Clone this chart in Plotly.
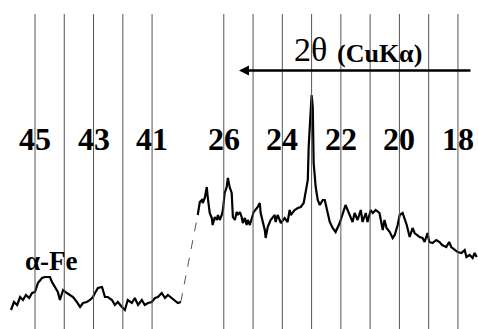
import plotly.graph_objects as go

# ---- data (2-theta in degrees, intensity in arbitrary units) ----
two_theta_left = [45.82, 45.72, 45.61, 45.51, 45.41, 45.31, 45.20, 45.10, 45.00, 44.90,
                  44.76, 44.66, 44.56, 44.49, 44.42, 44.32, 44.22, 44.15, 44.04, 43.91,
                  43.81, 43.70, 43.57, 43.46, 43.36, 43.23, 43.12, 43.02, 42.95, 42.85,
                  42.71, 42.61, 42.51, 42.37, 42.27, 42.17, 42.03, 41.93, 41.83, 41.69,
                  41.59, 41.48, 41.35, 41.25, 41.14, 41.01, 40.90, 40.80, 40.67, 40.56,
                  40.46, 40.32, 40.22, 40.12, 40.02]
intensity_left = [19, 27, 24, 32, 29, 34, 31, 36, 37, 46,
                  51, 52, 52, 52, 47, 42, 37, 29, 39, 36,
                  34, 32, 27, 22, 26, 27, 29, 32, 36, 41,
                  42, 32, 32, 29, 24, 27, 22, 19, 29, 26,
                  31, 24, 29, 24, 26, 27, 31, 32, 36, 31,
                  34, 31, 29, 26, 27]

two_theta_right = [26.89, 26.82, 26.75, 26.72, 26.65, 26.58, 26.55, 26.48, 26.41, 26.38,
                   26.31, 26.24, 26.20, 26.14, 26.07, 26.03, 25.97, 25.90, 25.86, 25.80,
                   25.73, 25.69, 25.62, 25.56, 25.52, 25.45, 25.39, 25.35, 25.28, 25.22,
                   25.18, 25.11, 25.04, 24.98, 24.84, 24.77, 24.74, 24.60, 24.57, 24.50,
                   24.40, 24.26, 24.23, 24.16, 24.05, 23.92, 23.82, 23.75, 23.71, 23.58,
                   23.47, 23.37, 23.27, 23.20, 23.13, 23.10, 23.06, 23.00, 22.96, 22.93,
                   22.86, 22.79, 22.72, 22.62, 22.55, 22.45, 22.38, 22.28, 22.18, 22.04,
                   21.94, 21.84, 21.77, 21.70, 21.60, 21.53, 21.43, 21.32, 21.26, 21.15,
                   21.09, 20.98, 20.91, 20.81, 20.68, 20.57, 20.51, 20.44, 20.33, 20.23,
                   20.16, 20.06, 19.99, 19.89, 19.75, 19.65, 19.58, 19.55, 19.48, 19.41,
                   19.31, 19.21, 19.14, 19.04, 18.98, 18.87, 18.74, 18.63, 18.54, 18.40,
                   18.30, 18.23, 18.12, 18.01, 17.88, 17.77, 17.71, 17.60, 17.50, 17.43,
                   17.36]
intensity_right = [114, 127, 129, 126, 131, 142, 132, 116, 111, 104,
                   112, 109, 114, 109, 114, 119, 136, 142, 151, 142,
                   136, 112, 109, 117, 114, 117, 112, 106, 111, 104,
                   109, 104, 111, 117, 122, 126, 116, 99, 91, 102,
                   109, 114, 107, 114, 106, 111, 107, 119, 114, 119,
                   121, 122, 126, 136, 149, 182, 209, 234, 222, 166,
                   142, 129, 124, 129, 129, 114, 107, 101, 97, 106,
                   116, 124, 119, 114, 107, 116, 109, 119, 107, 116,
                   107, 119, 116, 119, 116, 99, 109, 101, 97, 91,
                   94, 104, 114, 116, 104, 92, 99, 101, 96, 94,
                   92, 91, 87, 96, 87, 86, 89, 87, 84, 82,
                   87, 82, 79, 77, 76, 79, 72, 74, 71, 76,
                   72]

grid_angles = [45, 44, 43, 42, 41, 26, 25, 24, 23, 22, 21, 20, 19, 18]
label_angles = [45, 43, 41, 26, 24, 22, 20, 18]
label_texts = ["45", "43", "41", "26", "24", "22", "20", "18"]


# broken 2-theta axis: 45..40 on the left, 27..17 on the right
def pos(tt):
    if tt >= 33:
        return 45.0 - tt
    return 6.45 + (26.0 - tt)


xl = [pos(t) for t in two_theta_left]
xr = [pos(t) for t in two_theta_right]

W, H = 478, 329


def px(x):
    return x / W


def py(y):
    return (H - y) / H


fig = go.Figure()

# vertical reference lines
for a in grid_angles:
    fig.add_shape(type="line", x0=pos(a), x1=pos(a), y0=0, y1=315,
                  xref="x", yref="y", line=dict(color="#555555", width=1))

# connector across the break
fig.add_trace(go.Scatter(x=[xl[-1], xr[0]], y=[intensity_left[-1], intensity_right[0]],
                         mode="lines", line=dict(color="#555555", width=1, dash="dash"),
                         hoverinfo="skip", showlegend=False))
fig.add_trace(go.Scatter(x=xl, y=intensity_left, mode="lines",
                         line=dict(color="black", width=2.2), showlegend=False))
fig.add_trace(go.Scatter(x=xr, y=intensity_right, mode="lines",
                         line=dict(color="black", width=2.2), showlegend=False))

serif = "Liberation Serif, Times New Roman, serif"
for a, t in zip(label_angles, label_texts):
    fig.add_annotation(x=pos(a), y=190, xref="x", yref="y", text=t, showarrow=False,
                       xanchor="center", yanchor="middle",
                       font=dict(family=serif, size=32, color="black", weight="bold"))

fig.add_annotation(x=px(51), y=py(261), xref="paper", yref="paper", text="α-Fe",
                   showarrow=False, xanchor="center", yanchor="middle",
                   font=dict(family=serif, size=27, color="black", weight="bold"))

# 2-theta direction arrow
fig.add_annotation(x=px(239), y=py(70.5), xref="paper", yref="paper",
                   ax=233, ay=0, text="", showarrow=True, arrowhead=2, arrowsize=0.8,
                   arrowwidth=2.5, arrowcolor="black")
fig.add_annotation(x=px(310), y=py(50), xref="paper", yref="paper",
                   text="2θ", showarrow=False, xanchor="center", yanchor="middle",
                   font=dict(family=serif, size=34, color="black"))
fig.add_annotation(x=px(379), y=py(53), xref="paper", yref="paper",
                   text="(CuKα)", showarrow=False, xanchor="center", yanchor="middle",
                   font=dict(family=serif, size=26, color="black", weight="bold"))

fig.update_layout(width=W, height=H, margin=dict(l=0, r=0, t=0, b=0),
                  paper_bgcolor="white", plot_bgcolor="white", showlegend=False)
fig.update_xaxes(range=[-35 / 29.27, (478 - 35) / 29.27], visible=False)
fig.update_yaxes(range=[0, H], visible=False)

fig.write_html("out.html", config={"displayModeBar": False},
               post_script="document.body.style.margin='0px';"
                           "document.documentElement.style.overflow='hidden';")
